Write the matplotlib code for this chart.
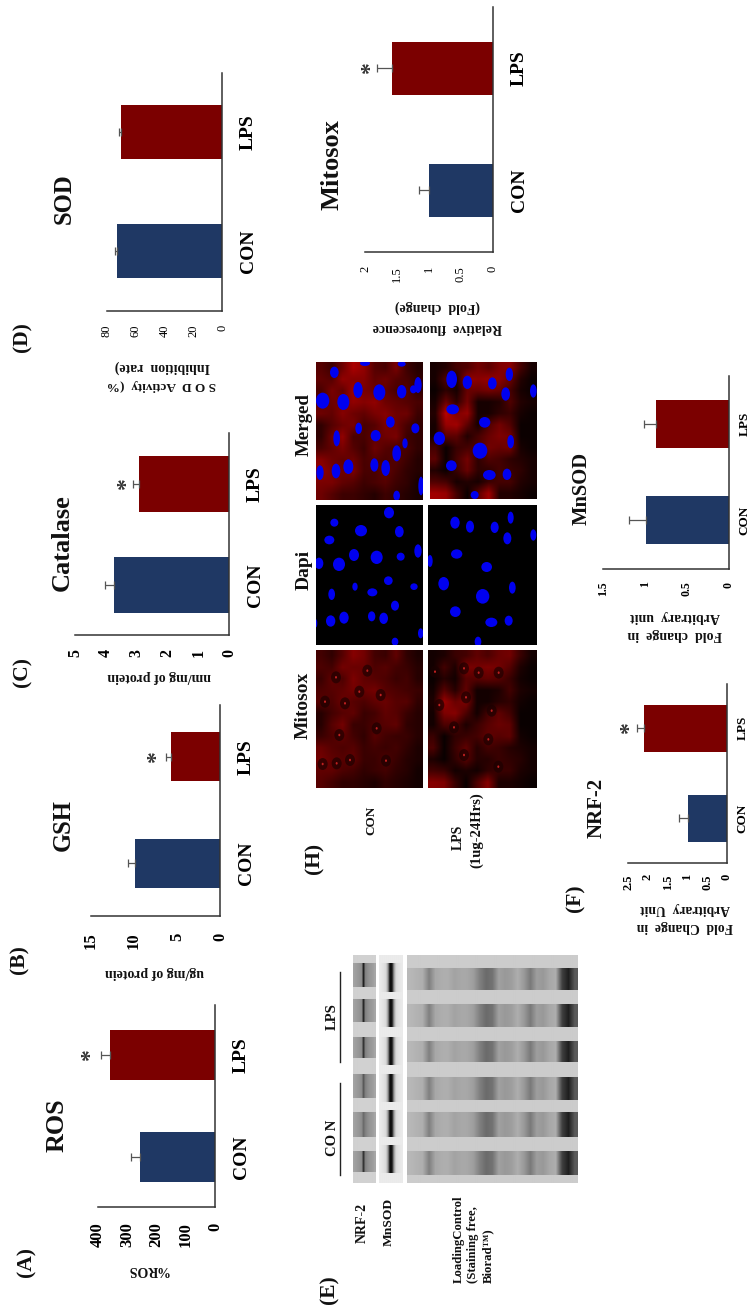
import numpy as np
import matplotlib
matplotlib.use("Agg")
import matplotlib.pyplot as plt
from matplotlib.patches import Ellipse, Rectangle

W, H = 754, 1311
plt.rcParams["font.family"] = ["Liberation Serif", "DejaVu Serif"]
plt.rcParams["font.weight"] = "bold"

NAVY = "#1F3864"
RED = "#7B0000"
AXC = "#333333"

# bar values, order A B C D mitosox MnSOD NRF-2
groups = ["CON", "LPS"]
con_vals = [256, 9.9, 3.73, 73, 1.0, 0.99, 0.98]
lps_vals = [359, 5.7, 2.92, 70.3, 1.58, 0.87, 2.09]
con_errs = [31, 0.8, 0.30, 1.2, 0.16, 0.20, 0.23]
lps_errs = [32, 0.6, 0.20, 1.4, 0.23, 0.14, 0.18]
ticks_a = [0, 100, 200, 300, 400]
ticks_b = [0, 5, 10, 15]
ticks_c = [0, 1, 2, 3, 4, 5]
ticks_d = [0, 20, 40, 60, 80]
ticks_m = [0, 0.5, 1, 1.5, 2]
ticks_s = [0, 0.5, 1, 1.5]
ticks_n = [0, 0.5, 1, 1.5, 2, 2.5]
all_ticks = [ticks_a, ticks_b, ticks_c, ticks_d, ticks_m, ticks_s, ticks_n]
has_star = [True, True, True, False, True, False, True]

# page layout in pixels: left, right(baseline), spine top, axis y, con centre, lps centre, bar height
layout = [
    (98, 215, 1005, 1207, 1157, 1055, 50),
    (91, 220, 705, 916, 863, 757, 49),
    (75, 229, 433, 635, 585, 484, 56),
    (107, 222, 73, 311, 251, 132, 54),
    (365, 493, 7, 252, 190, 68, 53),
    (603, 729, 376, 569, 520, 424, 48),
    (628, 727, 684, 863, 818, 728, 47),
]
# tick font, tick weight, category font, tick pad, category pad, star offset
styles = [
    (12, "bold", 14, 11, 13, 0), (12, "bold", 14, 12, 13, -1), (11.5, "bold", 14, 10, 13, -3),
    (9, "normal", 14, 10, 13, 0), (9, "normal", 14, 10, 13, -3), (8.5, "bold", 9.5, 9, 7, 0), (9, "bold", 9.5, 8, 7, -2),
]


def px_axes(x0, x1, y0, y1):
    return fig.add_axes([x0 / W, 1 - y1 / H, (x1 - x0) / W, (y1 - y0) / H])


fig = plt.figure(figsize=(W / 100, H / 100), dpi=100)
bg = fig.add_axes([0, 0, 1, 1])
bg.axis("off")

for i, (left, base, top, axy, cy, ly, bh) in enumerate(layout):
    ax = px_axes(left, base, top, axy)
    ax.patch.set_alpha(0)
    tf, tw, cf, tp, cp, so = styles[i]
    d = cy - ly
    ax.barh([0, 1], [con_vals[i], lps_vals[i]], height=bh / d, color=[NAVY, RED])
    for pos, v, e in [(0, con_vals[i], con_errs[i]), (1, lps_vals[i], lps_errs[i])]:
        ax.errorbar(v, pos, xerr=[[0], [e]], color="#555555", lw=0.9, capsize=3, capthick=0.9)
    ax.set_xlim(max(all_ticks[i]), 0)
    ax.set_ylim(-(axy - cy) / d, 1 + (ly - top) / d)
    ax.set_xticks(all_ticks[i], [f"{t:g}" for t in all_ticks[i]], fontweight=tw)
    ax.tick_params(axis="x", length=0, pad=tp, labelsize=tf, labelrotation=90)
    ax.yaxis.tick_right()
    ax.set_yticks([0, 1], groups)
    ax.tick_params(axis="y", length=0, pad=cp, labelsize=cf, labelrotation=90)
    for lab in ax.get_yticklabels():
        lab.set_va("center")
    for s in ["top", "left"]:
        ax.spines[s].set_visible(False)
    for s in ["right", "bottom"]:
        ax.spines[s].set_color(AXC)
        ax.spines[s].set_linewidth(1.1)
    if has_star[i]:
        ax.annotate("*", (lps_vals[i] + lps_errs[i], 1), xytext=(-so, 0), textcoords="offset points",
                    rotation=90, ha="right", va="center", fontsize=17, color="#333333")

# gel images
gel_profile = [0.72, 0.70, 0.68, 0.5, 0.66, 0.68, 0.68, 0.64, 0.66, 0.66, 0.62, 0.5, 0.42, 0.45, 0.63, 0.6, 0.62,
               0.68, 0.6, 0.48, 0.62, 0.6, 0.66, 0.68, 0.25, 0.12, 0.35]
gel_lanes = [(968, 990), (1004, 1027), (1041, 1062), (1077, 1100), (1112, 1137), (1151, 1175)]
nrf_lanes = [(963, 987), (999, 1022), (1037, 1058), (1074, 1098), (1112, 1137), (1151, 1172)]
mn_lanes = [(963, 992), (999, 1027), (1037, 1065), (1074, 1102), (1110, 1137), (1145, 1173)]
nrf_dark = [0.12, 0.15, 0.2, 0.35, 0.42, 0.2]
lane_rows = np.arange(955, 1183)
gel = np.full((len(lane_rows), len(gel_profile)), 0.8)
for y0, y1 in gel_lanes:
    gel[(lane_rows >= y0) & (lane_rows < y1)] = gel_profile
bg.imshow(gel, cmap="gray", vmin=0, vmax=1, extent=(407, 578, 1183, 955), aspect="auto", interpolation="bilinear")

strip = np.full((len(lane_rows), 12), 0.82)
for (y0, y1), dk in zip(nrf_lanes, nrf_dark):
    strip[(lane_rows >= y0) & (lane_rows < y1)] = [0.64, 0.62, 0.6, 0.58, 0.55, dk, 0.5, 0.55, 0.58, 0.6, 0.62, 0.66]
bg.imshow(strip, cmap="gray", vmin=0, vmax=1, extent=(353, 376, 1183, 955), aspect="auto", interpolation="bilinear")

strip = np.full((len(lane_rows), 12), 0.92)
for y0, y1 in mn_lanes:
    strip[(lane_rows >= y0) & (lane_rows < y1)] = [0.92, 0.9, 0.88, 0.85, 0.6, 0.05, 0.08, 0.6, 0.85, 0.88, 0.9, 0.92]
bg.imshow(strip, cmap="gray", vmin=0, vmax=1, extent=(379, 403, 1183, 955), aspect="auto", interpolation="bilinear")

# micrographs: red level on a coarse grid, nuclei
red_con = [
    [.35, .25, .45, .7, .6, .35, .3, .5, .25, .15],
    [.4, .35, .6, .55, .55, .4, .45, .35, .3, .2],
    [.3, .5, .4, .65, .5, .45, .4, .3, .35, .2],
    [.4, .45, .5, .6, .55, .6, .45, .4, .35, .3],
    [.45, .4, .55, .45, .4, .5, .55, .45, .45, .25],
    [.2, .35, .45, .5, .3, .35, .5, .45, .3, .2],
    [.2, .45, .6, .3, .3, .4, .45, .5, .25, .2],
    [.3, .4, .5, .35, .25, .45, .35, .3, .3, .2],
    [.55, .45, .4, .45, .3, .35, .3, .35, .25, .15],
    [.6, .5, .45, .5, .3, .3, .4, .3, .2, .15],
    [.5, .5, .4, .35, .25, .3, .35, .25, .2, .1],
    [.45, .35, .25, .25, .2, .15, .25, .2, .15, .1],
]
red_lps = [
    [.1, .15, .3, .35, .5, .4, .55, .6, .3, .1],
    [.1, .35, .15, .65, .6, .65, .6, .45, .15, .05],
    [.05, .2, .1, .45, .45, .5, .45, .3, .1, .05],
    [.1, .45, .2, .5, .1, .1, .15, .35, .15, .1],
    [.15, .8, .55, .65, .1, .1, .2, .25, .1, .05],
    [.1, .65, .7, .4, .1, .35, .5, .35, .05, .05],
    [.1, .4, .4, .15, .3, .45, .55, .5, .05, .05],
    [.3, .05, .25, .3, .35, .5, .45, .5, .1, .05],
    [.4, .05, .3, .5, .2, .35, .3, .2, .15, .1],
    [.15, .05, .25, .45, .2, .2, .3, .25, .2, .1],
    [.35, .3, .1, .15, .1, .25, .3, .3, .15, .1],
    [.7, .65, .3, .05, .4, .7, .15, .15, .1, .05],
]
# (cx, cy, rx, ry) in 3x crop units of the page region
merged_con = [(163, 97, 13, 17), (128, 182, 20, 24), (190, 186, 18, 24), (234, 150, 14, 24), (298, 157, 18, 24),
              (365, 155, 14, 20), (414, 135, 11, 24), (400, 148, 10, 12), (331, 246, 13, 17), (236, 265, 10, 17),
              (287, 287, 15, 17), (406, 265, 12, 15), (170, 295, 10, 24), (350, 340, 13, 24), (375, 310, 8, 15),
              (120, 398, 11, 22), (168, 393, 13, 22), (205, 380, 15, 22), (283, 375, 12, 20), (317, 384, 13, 24),
              (423, 438, 8, 28), (350, 467, 10, 15), (255, 70, 15, 8), (365, 72, 12, 8)]
merged_lps = [(515, 118, 16, 26), (562, 127, 14, 20), (637, 130, 13, 18), (688, 103, 11, 20), (677, 162, 13, 20),
              (760, 153, 10, 20), (518, 208, 19, 15), (614, 247, 17, 16), (478, 295, 17, 20), (692, 305, 10, 20),
              (600, 332, 22, 24), (514, 377, 16, 16), (628, 405, 19, 15), (681, 403, 13, 17), (584, 465, 12, 12)]
dapi_con = [(327, 518, 15, 17), (163, 548, 12, 12), (243, 572, 18, 17), (358, 575, 13, 17), (148, 600, 15, 13),
            (414, 633, 11, 20), (117, 670, 13, 17), (222, 645, 15, 18), (290, 652, 18, 20), (362, 650, 12, 12),
            (177, 673, 18, 20), (325, 722, 13, 13), (225, 740, 8, 12), (155, 763, 10, 17), (277, 757, 15, 12),
            (402, 740, 11, 10), (152, 843, 14, 17), (192, 833, 14, 18), (275, 829, 11, 15), (311, 835, 13, 17),
            (345, 797, 12, 15), (345, 905, 10, 12), (422, 880, 8, 15), (108, 850, 4, 12)]
dapi_lps = [(525, 548, 14, 18), (570, 560, 12, 18), (644, 562, 12, 17), (692, 533, 9, 18), (682, 595, 12, 18),
            (760, 585, 9, 17), (450, 663, 8, 18), (530, 642, 17, 14), (620, 681, 16, 15), (491, 731, 16, 20),
            (697, 743, 10, 18), (608, 769, 20, 22), (526, 815, 16, 16), (634, 847, 18, 14), (686, 842, 12, 15),
            (594, 905, 10, 15)]
mito_con = [(168, 112), (135, 185), (195, 190), (302, 165), (262, 92), (170, 370), (128, 372), (210, 360),
            (318, 362), (178, 285), (238, 155), (290, 265)]
mito_lps = [(478, 195), (552, 85), (596, 98), (656, 98), (558, 172), (552, 345), (625, 298), (635, 212), (465, 95),
            (522, 262), (655, 380)]


def red_panel(grid, box, gain=1.0):
    x0, x1, y0, y1 = box
    g = np.clip(np.array(grid) * gain, 0, 1)
    rgb = np.dstack([g, np.zeros_like(g), np.zeros_like(g)])
    im = bg.imshow(rgb, extent=(x0, x1, y1, y0), aspect="auto", interpolation="bilinear")
    return im


def nuclei(items, box, color="#0000F0"):
    x0, x1, y0, y1 = box
    clip = Rectangle((x0, y0), x1 - x0, y1 - y0, transform=bg.transData)
    for cx, cy, rx, ry in items:
        e = Ellipse((280 + cx / 3, 340 + cy / 3), 2 * rx / 3, 2 * ry / 3, color=color, lw=0)
        bg.add_patch(e)
        e.set_clip_path(clip)


box_mc, box_ml = (316, 423, 362, 500), (430, 537, 362, 499)
box_dc, box_dl = (316, 423, 505, 645), (428, 537, 505, 645)
box_xc, box_xl = (316, 423, 650, 788), (428, 537, 650, 788)

red_panel(red_con, box_mc, 0.95)
nuclei(merged_con, box_mc)
red_panel(red_lps, box_ml, 0.9)
nuclei(merged_lps, box_ml)
for box, items in [(box_dc, dapi_con), (box_dl, dapi_lps)]:
    red_panel(np.zeros((2, 2)), box)
    nuclei(items, box)
for box, grid, spots in [(box_xc, red_con, mito_con), (box_xl, red_lps, mito_lps)]:
    red_panel(grid, box, 0.75)
    for cx, cy in spots:
        px, py = 280 + cx / 3, 640 + cy / 3
        bg.add_patch(Ellipse((px, py), 10, 12, color="#1A0000", alpha=0.65, lw=0))
        bg.add_patch(Ellipse((px, py), 2, 2.5, color="#C02020", lw=0))

# brackets over the blot
bg.plot([340, 340], [972, 1062], color="#222222", lw=1)
bg.plot([340, 340], [1083, 1175], color="#222222", lw=1)

bg.set_xlim(0, W)
bg.set_ylim(H, 0)

# text: (x, y, string, size, rotation)
labels = [
    (26, 1262, "(A)", 15.5, 90), (19, 960, "(B)", 15.5, 90), (22, 672, "(C)", 15.5, 90), (22, 337, "(D)", 15.5, 90),
    (329, 1290, "(E)", 15.5, 90), (575, 898, "(F)", 15.5, 90), (314, 858, "(H)", 15.5, 90),
    (57, 1125, "ROS", 18.7, 90), (63, 825, "GSH", 17.7, 90), (62, 543, "Catalase", 19, 90),
    (64, 199, "SOD", 17.7, 90), (332, 165, "Mitosox", 19, 90), (582, 488, "MnSOD", 14.8, 90), (597, 808, "NRF-2", 15, 90),
    (148, 1270, "%ROS", 10, 180), (155, 972, "ug/mg of protein", 10, 180), (159, 676, "nm/mg of protein", 10, 180),
    (161, 385, "S O D  Activity  (%", 9.5, 180), (162, 367, "Inhibition  rate)", 10, 180),
    (437, 327, "Relative  fluorescence", 10, 180), (437, 307, "(Fold  change)", 10, 180),
    (675, 635, "Fold  change  in", 10, 180), (675, 616, "Arbitrary  unit", 10, 180),
    (685, 927, "Fold  Change  in", 9.8, 180), (685, 908, "Arbitrary  Unit", 9.8, 180),
    (304, 425, "Merged", 13.7, 90), (304, 570, "Dapi", 14, 90), (303, 705, "Mitosox", 14, 90),
    (371, 820, "CON", 9.5, 90), (458, 837, "LPS", 10, 90), (477, 830, "(1ug-24Hrs)", 10.5, 90),
    (332, 1017, "LPS", 10.5, 90), (332, 1138, "CO N", 10.5, 90),
    (362, 1223, "NRF-2", 10, 90), (389, 1222, "MnSOD", 9.7, 90),
]
for x, y, s, size, rot in labels:
    bg.text(x, y, s, fontsize=size, rotation=rot, ha="center", va="center", color="#111111")

loading = [(459, "LoadingControl"), (473, "(Staining free,"), (488, "Biorad™)")]
for x, s in loading:
    bg.text(x, 1283, s, fontsize=9.2, rotation=90, ha="center", va="bottom", color="#111111")

fig.savefig("out.png", dpi=100)
